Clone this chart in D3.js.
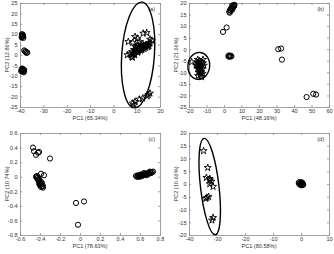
<!DOCTYPE html>
<html><head><meta charset="utf-8">
<script src="https://cdn.jsdelivr.net/npm/d3@7"></script>
<style>
html,body{margin:0;padding:0;background:#fff;}
svg{display:block;font-family:"Liberation Sans",Arial,sans-serif;}
</style></head><body>
<svg id="c" width="334" height="254"></svg>
<script>
// ---- Panel (a) ----
const aXTicks = [-40,-30,-20,-10,0,10,20];
const aYTicks = [-25,-20,-15,-10,-5,0,5,10,15,20,25];
const aCircles = [[-39.2,10],[-38.8,9.5],[-39,8.8],[-38.6,8.2],[-39.3,8.5],[-38.9,9.8],[-39.1,9.2],[-38.7,8.9],
  [-38.2,2.2],[-37.5,1.5],[-36.9,1.2],[-37.8,1.8],[-37.2,1.0],
  [-39,-6.5],[-38.5,-7],[-39.2,-7.5],[-38.7,-8],[-38.2,-7.2],[-39.5,-7.8],[-38.9,-6.8],[-38.4,-8.3],
  [-38.8,-7.3],[-39.3,-6.9],[-38.3,-7.7]];
const aStars = [[6.4,6.4],[8.3,5.9],[9.3,8.8],[10.3,8],[12.8,10.4],[14.3,10.7],[15.7,7.5],[11.4,6.4],
  [6,0],[7,0.5],[7.9,-0.8],[8.5,0.5],[9,1],[9.5,2],[10,2.5],[10.5,3],[11,2.8],[11.5,3.5],[12,4],
  [12.5,3.2],[13,4.2],[13.5,4.5],[14,5],[14.3,4.8],[15,5.2],[15.7,5.6],[9.8,3.5],[10.8,1.8],[12.2,2.5],
  [13.2,3],[8.8,2.5],[11.8,5],[10.2,4.5],[14.8,3.8],[16.5,7],[9.2,0],[8.2,-1.2],[10.4,1.2],[11.6,2.2],
  [12.8,4.8],[13.8,3.6],[9.6,4],[8,1.5],[11,4],[15.3,4.4],
  [8.3,-23.2],[9.3,-22.4],[11.1,-21.3],[12.6,-20.8],[15,-19.1],[15.7,-18.4],[8.8,-24],[14.5,-19.8]];
const aEllipse = {cx:10.6, cy:0, tipX:12.2, tipY:25.4, minor:7};

// ---- Panel (b) ----
const bXTicks = [-20,-10,0,10,20,30,40,50,60];
const bYTicks = [-25,-20,-15,-10,-5,0,5,10,15,20];
const bCircles = [[3,16.2],[3.5,17],[4,17.5],[4.5,18],[5,18.5],[5.5,19],[6,19.2],[4.2,17.8],[5.2,18.2],
  [3.3,15.8],[4.8,17.2],[5.8,18.7],[4.6,18.9],[3.8,16.6],
  [1.5,9.4],[-0.6,7.5],
  [2.5,-3],[3.5,-3],[4.2,-3.1],[3,-3.3],[3.8,-2.8],[2.8,-2.7],
  [31,0],[32.6,0.3],[33.1,-4.5],
  [47.2,-20.7],[51,-19.3],[52.6,-19.6]];
const bStars = [[-18.5,-5.5],[-15,-4.5],[-14,-5],[-13,-5.5],[-12,-6],[-15.5,-7],[-14.5,-7.5],[-13.5,-8],
  [-12.5,-8.5],[-14,-9],[-13,-9.5],[-14.5,-10],[-13.5,-11],[-12.8,-12],[-15,-8.5],[-11.5,-7],
  [-12,-4.5],[-16,-6.5],[-13.8,-6.5],[-14.8,-11.5],[-14.2,-8.2],[-13.2,-7.2],[-12.2,-10.5],
  [-15.2,-5.8],[-13.6,-10.2],[-14.6,-6]];
const bEllipse = {cx:-14.4, cy:-7.2, tipX:-13.6, tipY:-1.4, minor:6.2};

// ---- Panel (c) ----
const cXTicks = [-0.6,-0.4,-0.2,0,0.2,0.4,0.6,0.8];
const cYTicks = [-0.8,-0.6,-0.4,-0.2,0,0.2,0.4,0.6];
const cCircles = [[-0.47,0.4],[-0.46,0.35],[-0.44,0.3],[-0.42,0.33],[-0.41,0.34],[-0.3,0.25],
  [-0.39,0.04],[-0.36,0.02],
  [-0.44,0.0],[-0.43,-0.02],[-0.42,-0.04],[-0.41,-0.06],[-0.4,-0.08],[-0.4,-0.1],[-0.39,-0.11],
  [-0.38,-0.13],[-0.37,-0.15],[-0.42,-0.01],[-0.41,-0.03],[-0.39,-0.07],[-0.38,-0.09],[-0.43,0.01],
  [-0.4,-0.12],[-0.37,-0.13],[-0.41,-0.09],[-0.39,-0.14],
  [-0.04,-0.36],[0.04,-0.34],[-0.02,-0.66],
  [0.56,0.01],[0.58,0.02],[0.6,0.02],[0.62,0.03],[0.64,0.03],[0.66,0.04],[0.68,0.05],[0.7,0.06],
  [0.72,0.06],[0.57,0.0],[0.59,0.01],[0.61,0.03],[0.63,0.02],[0.65,0.04],[0.67,0.04],[0.69,0.05],
  [0.71,0.05],[0.6,0.0],[0.66,0.02],[0.7,0.07],[0.62,0.01],[0.64,0.05],[0.68,0.03],[0.58,0.0],[0.73,0.07]];

// ---- Panel (d) ----
const dXTicks = [-40,-30,-20,-10,0,10];
const dYTicks = [-20,-15,-10,-5,0,5,10,15,20];
const dStars = [[-34.8,13],[-33.3,6.4],[-33.8,2.5],[-32.6,2.1],[-32.5,1.5],[-32,1],[-32.6,0],
  [-31.4,-1],[-33,-5],[-33.6,-5.3],[-34,-5.7],[-31.4,-13.2],[-31.8,-14.2]];
const dCircles = [[-0.8,0.5],[-0.5,0.8],[0,0.5],[0.5,0.2],[0.8,-0.2],[-0.3,-0.3],[0.2,-0.5],
  [-0.6,0],[0.4,0.6],[0,0],[-0.2,0.2],[0.6,-0.4]];
const dEllipse = {cx:-32.6, cy:-1, tipX:-34.6, tipY:17.9, minor:3.3};

const panels = [
  {id:"(a)", box:[20,160,3,107], xd:[-40,20], yd:[-25,25], xt:aXTicks, yt:aYTicks,
   xl:"PC1 (65.34%)", yl:"PC2 (12.86%)", circles:aCircles, stars:aStars, ell:aEllipse},
  {id:"(b)", box:[189,329,3,107], xd:[-20,60], yd:[-25,20], xt:bXTicks, yt:bYTicks,
   xl:"PC1 (48.16%)", yl:"PC2 (21.66%)", circles:bCircles, stars:bStars, ell:bEllipse},
  {id:"(c)", box:[20,160,133,235], xd:[-0.6,0.8], yd:[-0.8,0.6], xt:cXTicks, yt:cYTicks,
   xl:"PC1 (78.63%)", yl:"PC2 (10.74%)", circles:cCircles, stars:[], ell:null},
  {id:"(d)", box:[189,329,133,235], xd:[-40,10], yd:[-20,20], xt:dXTicks, yt:dYTicks,
   xl:"PC1 (80.58%)", yl:"PC2 (10.66%)", circles:dCircles, stars:dStars, ell:dEllipse}
];

const svg = d3.select("#c");
const fmt = v => (Math.abs(v) < 1e-9 ? "0" : String(+v.toFixed(2)));
const axisCol = "#8a8a8a", textCol = "#333";

panels.forEach(p => {
  const [L,R,T,B] = p.box;
  const x = d3.scaleLinear().domain(p.xd).range([L,R]);
  const y = d3.scaleLinear().domain(p.yd).range([B,T]);
  const g = svg.append("g");

  const styleAxis = sel => {
    sel.select(".domain").attr("stroke", axisCol).attr("stroke-width", 0.8);
    sel.selectAll(".tick line").attr("stroke", axisCol).attr("stroke-width", 0.8);
    sel.selectAll("text").attr("fill", textCol).attr("font-size", 5.6)
      .attr("font-family", "Liberation Sans, Arial, sans-serif");
  };
  g.append("g").attr("transform", `translate(0,${B})`)
    .call(d3.axisBottom(x).tickValues(p.xt).tickFormat(fmt).tickSize(-2).tickPadding(2.5).tickSizeOuter(0))
    .call(styleAxis);
  g.append("g").attr("transform", `translate(0,${T})`)
    .call(d3.axisTop(x).tickValues(p.xt).tickFormat("").tickSize(-2).tickSizeOuter(0))
    .call(styleAxis);
  g.append("g").attr("transform", `translate(${L},0)`)
    .call(d3.axisLeft(y).tickValues(p.yt).tickFormat(fmt).tickSize(-2).tickPadding(2.5).tickSizeOuter(0))
    .call(styleAxis);
  g.append("g").attr("transform", `translate(${R},0)`)
    .call(d3.axisRight(y).tickValues(p.yt).tickFormat("").tickSize(-2).tickSizeOuter(0))
    .call(styleAxis);

  g.append("text").attr("x", (L+R)/2).attr("y", B+13).attr("text-anchor","middle")
    .attr("font-size", 5.6).attr("fill", textCol).text(p.xl);
  g.append("text").attr("transform", `translate(${L-12.5},${(T+B)/2}) rotate(-90)`)
    .attr("text-anchor","middle").attr("dy","0.35em")
    .attr("font-size", 5.6).attr("fill", textCol).text(p.yl);
  g.append("text").attr("x", R-5).attr("y", T+8).attr("text-anchor","end")
    .attr("font-size", 5.6).attr("fill", textCol).text(p.id);

  g.selectAll("circle.pt").data(p.circles).join("circle").attr("class","pt")
    .attr("cx", d => x(d[0])).attr("cy", d => y(d[1])).attr("r", 2.6)
    .attr("fill", "none").attr("stroke", "#000").attr("stroke-width", 1);
  const star = d3.symbol().type(d3.symbolStar).size(15);
  g.selectAll("path.st").data(p.stars).join("path").attr("class","st")
    .attr("transform", d => `translate(${x(d[0])},${y(d[1])})`).attr("d", star)
    .attr("fill", "none").attr("stroke", "#000").attr("stroke-width", 0.9);

  if (p.ell) {
    const e = p.ell;
    const cxp = x(e.cx), cyp = y(e.cy);
    const tx = x(e.tipX), ty = y(e.tipY);
    const major = Math.hypot(tx - cxp, ty - cyp);
    const ang = Math.atan2(ty - cyp, tx - cxp) * 180 / Math.PI + 90;
    const minor = Math.abs(x(e.cx + e.minor) - cxp);
    g.append("ellipse").attr("cx", cxp).attr("cy", cyp).attr("rx", minor).attr("ry", major)
      .attr("transform", `rotate(${ang},${cxp},${cyp})`)
      .attr("fill", "none").attr("stroke", "#000").attr("stroke-width", 1.4);
  }
});
</script>
</body></html>
